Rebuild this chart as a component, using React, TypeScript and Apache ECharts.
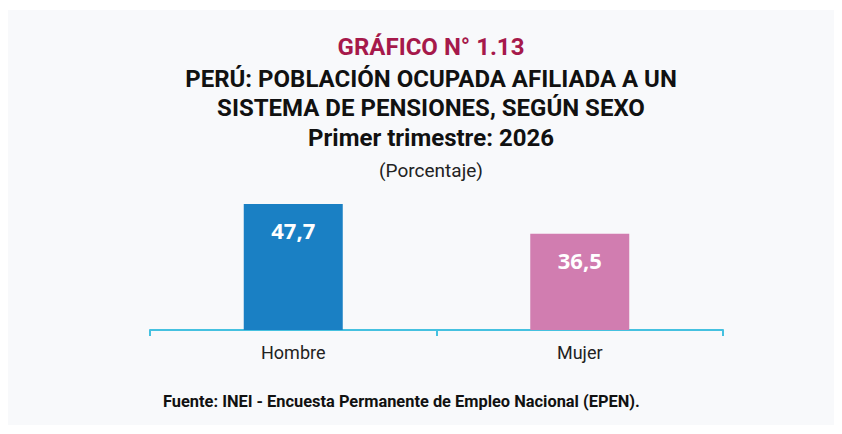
import React, { useEffect, useRef } from "react";
import * as echarts from "echarts";

const categories = ["Hombre", "Mujer"];
const values = [47.7, 36.5];
const barColors = ["#1a80c4", "#d17db0"];
const titleLines = [
  "GRÁFICO N° 1.13",
  "PERÚ: POBLACIÓN OCUPADA AFILIADA A UN",
  "SISTEMA DE PENSIONES, SEGÚN SEXO",
  "Primer trimestre: 2026",
];
const subtitle = "(Porcentaje)";
const source = "Fuente: INEI - Encuesta Permanente de Empleo Nacional (EPEN).";

export default function App() {
  const ref = useRef<HTMLDivElement>(null);
  useEffect(() => {
    if (!ref.current) return;
    const chart = echarts.init(ref.current, null, { renderer: "svg" });
    const cx = 423;
    const ys = [37, 69, 98, 128];
    chart.setOption({
      animation: false,
      backgroundColor: "#f8f9fb",
      grid: { left: 142, right: 111, top: 188, bottom: 95 },
      xAxis: {
        type: "category",
        data: categories,
        axisLine: { show: true, lineStyle: { color: "#45c1e0", width: 2 } },
        axisTick: { show: true, length: 6, lineStyle: { color: "#45c1e0", width: 2 } },
        axisLabel: { color: "#222", fontSize: 18, fontFamily: "Roboto", margin: 13 },
      },
      yAxis: { type: "value", min: 0, max: 50, show: false, splitLine: { show: false } },
      series: [
        {
          type: "bar",
          barWidth: 99,
          data: values.map((v, i) => ({ value: v, itemStyle: { color: barColors[i] } })),
          label: {
            show: true,
            position: "insideTop",
            distance: 15,
            color: "#fff",
            fontSize: 22,
            fontWeight: "bold",
            fontFamily: "Open Sans",
            formatter: (p: any) => String(p.value.toFixed(1)).replace(".", ","),
          },
        },
      ],
      graphic: [
        ...titleLines.map((t, i) => ({
          type: "text",
          x: cx,
          y: ys[i],
          style: {
            text: t,
            fill: i === 0 ? "#a6194b" : "#111",
            font: "bold 24px Roboto",
            textAlign: "center",
            textVerticalAlign: "middle",
          },
        })),
        {
          type: "text",
          x: cx,
          y: 160,
          style: { text: subtitle, fill: "#222", font: "19px Roboto", textAlign: "center", textVerticalAlign: "middle" },
        },
        {
          type: "text",
          x: 155,
          y: 391,
          style: { text: source, fill: "#111", font: "bold 16.4px Roboto", textAlign: "left", textVerticalAlign: "middle" },
        },
      ],
    });
    return () => chart.dispose();
  }, []);
  return (
    <div style={{ paddingTop: 2 }}>
      <div ref={ref} style={{ width: 826, height: 415 }} />
    </div>
  );
}
